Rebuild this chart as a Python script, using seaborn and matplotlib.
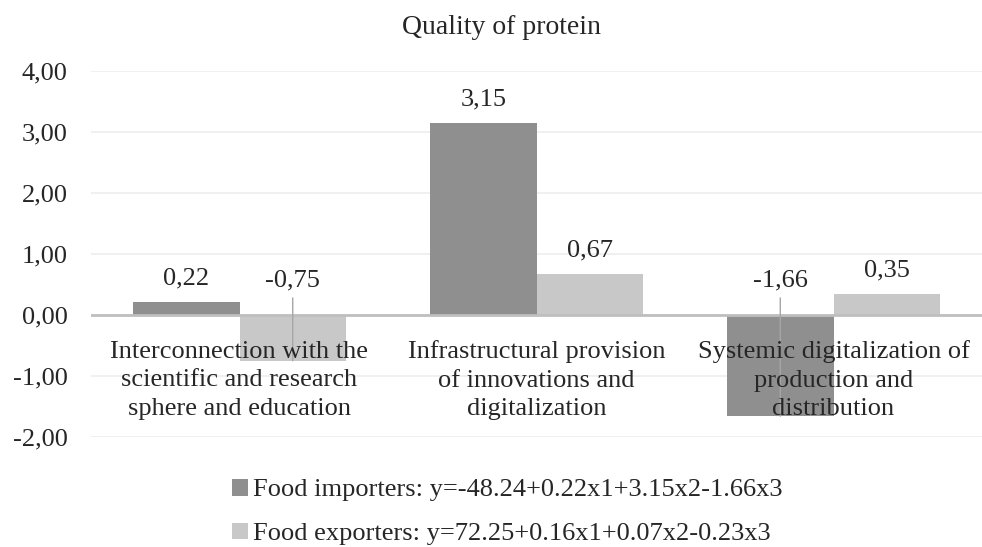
import numpy as np
import pandas as pd
import matplotlib
matplotlib.use('Agg')
import matplotlib.pyplot as plt
from matplotlib.ticker import FuncFormatter
import seaborn as sns

# data
categories = [
    "Interconnection with the\nscientific and research\nsphere and education",
    "Infrastructural provision\nof innovations and\ndigitalization",
    "Systemic digitalization of\nproduction and\ndistribution",
]
series_names = [
    "Food importers: y=-48.24+0.22x1+3.15x2-1.66x3",
    "Food exporters: y=72.25+0.16x1+0.07x2-0.23x3",
]
importers = [0.22, 3.15, -1.66]
exporters = [-0.75, 0.67, 0.35]
y_ticks = [-2, -1, 0, 1, 2, 3, 4]

df = pd.DataFrame({
    "category": categories * 2,
    "series": [series_names[0]] * 3 + [series_names[1]] * 3,
    "value": importers + exporters,
})

sns.set_style("white")
plt.rcParams['font.family'] = ['Liberation Serif', 'DejaVu Serif']
FS = 19

fig = plt.figure(figsize=(9.82, 5.47), dpi=100)
ax = fig.add_axes([91 / 982, 110 / 547, 1 - 91 / 982, 366 / 547])

sns.barplot(data=df, x="category", y="value", hue="series",
            palette=["#8f8f8f", "#c8c8c8"], saturation=1, width=0.717,
            linewidth=0, edgecolor="none", ax=ax, zorder=2)

ax.set_ylim(-2, 4)
ax.set_yticks(y_ticks)
ax.yaxis.set_major_formatter(FuncFormatter(lambda v, p: f"{v:.2f}".replace(".", ",")))
ax.tick_params(axis='y', labelsize=FS, length=0, pad=17)
ax.grid(axis='y', color="#eeeeee", linewidth=1.2, zorder=0)
ax.set_axisbelow(True)
ax.axhline(0, color="#bfbfbf", linewidth=2, zorder=3)
for s in ax.spines.values():
    s.set_visible(False)
ax.set_xlabel("")
ax.set_ylabel("")

# category labels sit inside the plot just below zero line
xt = ax.get_xticks()
ax.set_xticks(xt)
ax.set_xticklabels([])
ax.tick_params(axis='x', length=0)
for x, lab in zip(xt, categories):
    ax.text(x, -1.07, lab, ha='center', va='center', fontsize=FS,
            linespacing=1.38, zorder=5)

# value labels
for cont in ax.containers:
    for bar in cont:
        h = bar.get_height()
        cx = bar.get_x() + bar.get_width() / 2
        txt = f"{h:.2f}".replace(".", ",")
        if h >= 0:
            ax.annotate(txt, (cx, h), xytext=(0, 17), textcoords='offset points',
                        ha='center', va='center', fontsize=FS)
        else:
            ax.annotate(txt, xy=(cx, h), xytext=(cx, 0.56), textcoords='data',
                        ha='center', va='center', fontsize=FS,
                        arrowprops=dict(arrowstyle='-', color="#a6a6a6", lw=1,
                                        shrinkA=2, shrinkB=0), zorder=4)

fig.text(502 / 982, 1 - 27 / 547, "Quality of protein", ha='center', va='center',
         fontsize=20)

sns.move_legend(ax, loc="center left", bbox_to_anchor=(219 / 982, 1 - 512 / 547),
                bbox_transform=fig.transFigure, title=None, frameon=False,
                fontsize=FS, handlelength=0.6, handleheight=0.6,
                handletextpad=0.2, labelspacing=0.8, borderpad=0)

fig.savefig("out.png", dpi=100)
